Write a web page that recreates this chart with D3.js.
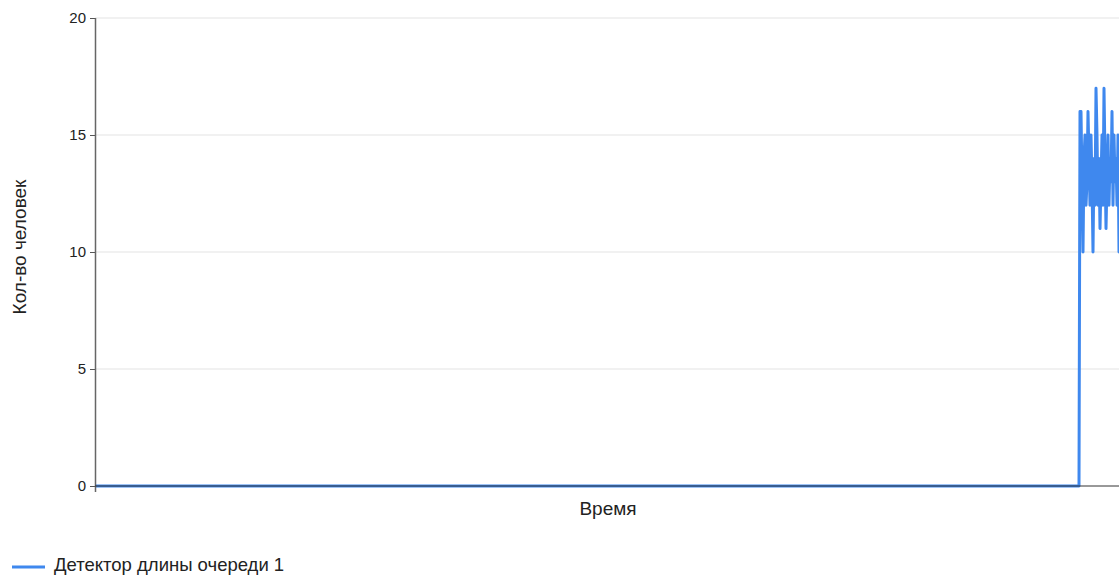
<!DOCTYPE html>
<html>
<head>
<meta charset="utf-8">
<script src="https://cdn.jsdelivr.net/npm/d3@7"></script>
<style>
  html, body { margin: 0; padding: 0; background: #fff; }
  svg { display: block; font-family: "Liberation Sans", Arial, sans-serif; }
</style>
</head>
<body>
<div id="chart"></div>
<script>
// queue length detector — people count over time

const seriesName = 'Детектор длины очереди 1';
const yTicks = [0, 5, 10, 15, 20];

// time steps (flat at 0 until the burst near the end)
const time = [0, 984, 985, 986, 987, 988, 989, 990, 991, 992, 993, 994, 995, 996, 997,
  998, 999, 1000, 1001, 1002, 1003, 1004, 1005, 1006, 1007, 1008, 1009, 1010, 1011,
  1012, 1013, 1014, 1015, 1016, 1017, 1018, 1019, 1020, 1021, 1022, 1023, 1024, 1025];
const queue = [0, 0, 16, 16, 13, 10, 14, 15, 12, 13, 16, 14, 12, 15, 13,
  10, 14, 12, 17, 15, 12, 14, 11, 13, 15, 12, 17, 14, 11,
  13, 15, 12, 14, 13, 16, 12, 15, 13, 14, 12, 15, 10, 13];

const W = 1119, H = 577;
const mLeft = 95, mTop = 18, mBottom = 486;

const svg = d3.select('#chart').append('svg')
  .attr('width', W).attr('height', H);

const x = d3.scaleLinear().domain([0, 1040]).range([mLeft, mLeft + 1040]);
const y = d3.scaleLinear().domain([0, 20]).range([mBottom, mTop]);

// gridlines
svg.append('g')
  .selectAll('line')
  .data(yTicks.filter(t => t > 0))
  .join('line')
  .attr('x1', mLeft).attr('x2', W)
  .attr('y1', d => y(d)).attr('y2', d => y(d))
  .attr('stroke', '#e3e3e3')
  .attr('stroke-width', 1);

// series
const pts = time.map((t, i) => [t, queue[i]]);
const line = d3.line().x(d => x(d[0])).y(d => y(d[1]));

svg.append('path')
  .datum(pts)
  .attr('d', line)
  .attr('fill', 'none')
  .attr('stroke', '#3f88ee')
  .attr('stroke-width', 3)
  .attr('stroke-linejoin', 'round');

// y axis
const yAxis = d3.axisLeft(y).tickValues(yTicks).tickSize(5).tickPadding(4);
const gy = svg.append('g')
  .attr('transform', `translate(${mLeft},0)`)
  .call(yAxis);
gy.select('.domain').remove();
gy.selectAll('.tick line').attr('stroke', '#555');
gy.selectAll('.tick text')
  .attr('fill', '#222')
  .attr('font-size', 15)
  .attr('font-family', '"Liberation Sans", Arial, sans-serif');

svg.append('line')
  .attr('x1', mLeft + 0.5).attr('x2', mLeft + 0.5)
  .attr('y1', mTop).attr('y2', mBottom + 6)
  .attr('stroke', '#666').attr('stroke-width', 1.5);

// x axis line
svg.append('line')
  .attr('x1', mLeft).attr('x2', W)
  .attr('y1', y(0)).attr('y2', y(0))
  .attr('stroke', '#333').attr('stroke-width', 1);

// axis titles
svg.append('text')
  .attr('transform', 'translate(26,247) rotate(-90)')
  .attr('text-anchor', 'middle')
  .attr('font-size', 19)
  .attr('fill', '#222')
  .text('Кол-во человек');

svg.append('text')
  .attr('x', 608).attr('y', 515)
  .attr('text-anchor', 'middle')
  .attr('font-size', 19)
  .attr('fill', '#222')
  .text('Время');

// legend
const lg = svg.append('g').attr('transform', 'translate(12,567)');
lg.append('line')
  .attr('x1', 0).attr('x2', 33)
  .attr('stroke', '#3f88ee').attr('stroke-width', 3);
lg.append('text')
  .attr('x', 42).attr('y', 4)
  .attr('font-size', 18.5)
  .attr('fill', '#222')
  .text(seriesName);
</script>
</body>
</html>
